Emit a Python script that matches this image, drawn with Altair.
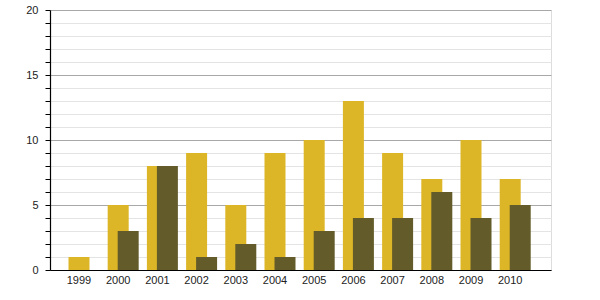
import altair as alt
import pandas as pd

years = ["1999", "2000", "2001", "2002", "2003", "2004", "2005", "2006", "2007", "2008", "2009", "2010"]
series_a = [1, 5, 8, 9, 5, 9, 10, 13, 9, 7, 10, 7]
series_b = [0, 3, 8, 1, 2, 1, 3, 4, 4, 6, 4, 5]

df_a = pd.DataFrame({"year": years, "value": series_a})
df_b = pd.DataFrame({"year": years, "value": series_b})

xscale = alt.Scale(domain=years, paddingInner=0, paddingOuter=0.39, align=0.307)
yscale = alt.Scale(domain=[0, 20], nice=False)


def xaxis():
    return alt.Axis(title=None, ticks=False, labelAngle=0, labelFont="Liberation Sans",
                    labelFontSize=11, labelColor="#222", labelPadding=4,
                    domainColor="#000", domainWidth=1.2, grid=False)


def yaxis():
    return alt.Axis(title=None, values=list(range(0, 21)), tickSize=5, tickColor="#000",
                    labelExpr="datum.value % 5 === 0 ? datum.label : ''",
                    labelFont="Liberation Sans", labelFontSize=11, labelColor="#222",
                    labelPadding=7, labelOverlap=False, domainColor="#000", domainWidth=1.2,
                    grid=True,
                    gridColor={"condition": {"test": "datum.value % 5 === 0", "value": "#a8a8a8"},
                               "value": "#e4e4e4"},
                    gridWidth=1)


bars_a = alt.Chart(df_a).mark_bar(width=21, color="#DDB627").encode(
    x=alt.X("year:O", scale=xscale, axis=xaxis(), sort=years),
    y=alt.Y("value:Q", scale=yscale, axis=yaxis()),
)
bars_b = alt.Chart(df_b).mark_bar(width=21, xOffset=10, color="#635C2A").encode(
    x=alt.X("year:O", scale=xscale, axis=xaxis(), sort=years),
    y=alt.Y("value:Q", scale=yscale, axis=yaxis()),
)

chart = alt.layer(bars_a, bars_b).properties(
    width=501, height=260,
    autosize=alt.AutoSizeParams(type="none"),
    padding={"left": 50, "top": 10, "right": 49, "bottom": 30},
).configure_view(strokeWidth=0).configure(background="#ffffff")

chart.save("out.html", embed_options={"renderer": "svg", "actions": False})
